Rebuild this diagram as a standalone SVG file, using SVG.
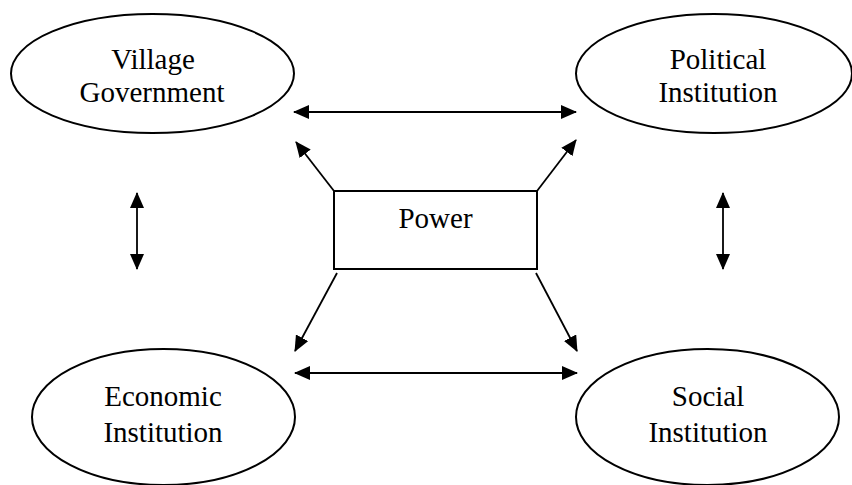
<svg xmlns="http://www.w3.org/2000/svg" width="852" height="485" viewBox="0 0 852 485">
<style>
.shape{fill:#fff;stroke:#000;stroke-width:2}
.lbl{font-family:"Liberation Serif","Times New Roman",serif;font-size:29px;fill:#000;text-anchor:middle}
.conn{stroke:#000;stroke-width:1.8;fill:none;marker-end:url(#ah)}
.both{marker-start:url(#ah)}
</style>
<defs>
<marker id="ah" markerUnits="userSpaceOnUse" markerWidth="16" markerHeight="14" viewBox="0 0 16 14" refX="15" refY="7" orient="auto-start-reverse">
<path d="M0,0 L16,7 L0,14 Z" fill="#000"/>
</marker>
</defs>
<rect width="852" height="485" fill="#fff"/>
<g id="connectors">
<line class="conn both" x1="294" y1="112" x2="576" y2="112"/>
<line class="conn both" x1="295" y1="373" x2="577" y2="373"/>
<line class="conn both" x1="137" y1="193" x2="137" y2="269"/>
<line class="conn both" x1="723" y1="193" x2="723" y2="269"/>
<line class="conn" x1="334" y1="191" x2="296" y2="142"/>
<line class="conn" x1="537" y1="191" x2="576" y2="140"/>
<line class="conn" x1="337" y1="273" x2="295" y2="351"/>
<line class="conn" x1="536" y1="273" x2="577" y2="351"/>
</g>
<g id="village">
<ellipse class="shape" cx="152.5" cy="73.5" rx="141.5" ry="59.5"/>
<text class="lbl" x="153" y="69">Village</text>
<text class="lbl" x="152" y="102">Government</text>
</g>
<g id="political">
<ellipse class="shape" cx="714" cy="73.5" rx="138" ry="59.5"/>
<text class="lbl" x="718" y="69">Political</text>
<text class="lbl" x="718" y="102">Institution</text>
</g>
<g id="power">
<rect class="shape" x="334" y="191" width="203" height="78"/>
<text class="lbl" x="435.5" y="228">Power</text>
</g>
<g id="economic">
<ellipse class="shape" cx="163.5" cy="417" rx="131.5" ry="68"/>
<text class="lbl" x="163" y="406">Economic</text>
<text class="lbl" x="163" y="442">Institution</text>
</g>
<g id="social">
<ellipse class="shape" cx="707.5" cy="417" rx="131.5" ry="68"/>
<text class="lbl" x="708" y="406">Social</text>
<text class="lbl" x="708" y="442">Institution</text>
</g>
</svg>
